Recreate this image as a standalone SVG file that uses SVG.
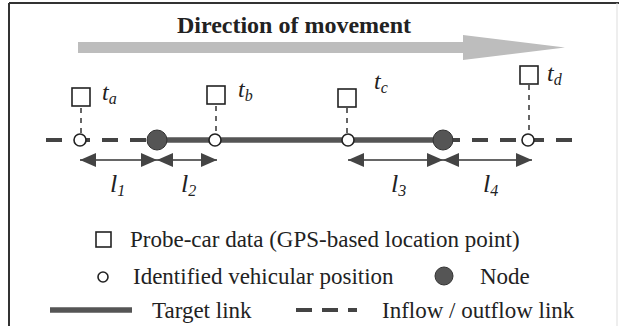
<svg xmlns="http://www.w3.org/2000/svg" width="619" height="326" viewBox="0 0 619 326">
<defs>
<style>
.tx{fill:#222}
.lbl{font-size:23px}
.it{font-style:italic;font-size:24px}
.il{font-style:italic;font-size:26px}
.sub{font-size:16px}
.sq{fill:#fff;stroke:#222;stroke-width:1.6}
.pos{fill:#fff;stroke:#222;stroke-width:1.6}
.node{fill:#555;stroke:#333;stroke-width:1}
.target{stroke:#555;stroke-width:5.5}
.inflow{stroke:#444;stroke-width:4;stroke-dasharray:16 12}
.drop{stroke:#333;stroke-width:1.5;stroke-dasharray:5 5}
.dim{stroke:#333;stroke-width:1.6}
</style>
<marker id="ah2" viewBox="0 0 16 14" refX="16" refY="7" markerWidth="16" markerHeight="14" markerUnits="userSpaceOnUse" orient="auto-start-reverse">
<path d="M0,0 L16,7 L0,14 z" fill="#444"/>
</marker>
</defs>
<rect width="619" height="326" fill="#fff"/>
<line x1="9" y1="3" x2="619" y2="3" stroke="#333" stroke-width="2"/>
<line x1="9" y1="3" x2="9" y2="326" stroke="#333" stroke-width="2"/>
<line x1="617" y1="3" x2="617" y2="326" stroke="#ddd" stroke-width="1"/>

<g id="title">
<text class="tx" x="294" y="33" font-family="Liberation Serif" font-size="24" font-weight="bold" text-anchor="middle">Direction of movement</text>
<path d="M78,42 L463,42 L463,35 L565,47.5 L463,60 L463,53 L78,53 z" fill="#bdbdbd"/>
</g>

<g id="connectors">
<line class="drop" x1="81" y1="108" x2="81" y2="134"/>
<line class="drop" x1="216" y1="106" x2="216" y2="134"/>
<line class="drop" x1="347" y1="108" x2="347" y2="134"/>
<line class="drop" x1="529" y1="85" x2="529" y2="134"/>
<line class="inflow" x1="46" y1="140" x2="150" y2="140"/>
<line class="target" x1="157" y1="140" x2="443" y2="140"/>
<line class="inflow" x1="444" y1="140" x2="574" y2="140"/>
<line class="dim" x1="80" y1="160" x2="157" y2="160" marker-start="url(#ah2)" marker-end="url(#ah2)"/>
<line class="dim" x1="157" y1="160" x2="217" y2="160" marker-start="url(#ah2)" marker-end="url(#ah2)"/>
<line class="dim" x1="348" y1="160" x2="443" y2="160" marker-start="url(#ah2)" marker-end="url(#ah2)"/>
<line class="dim" x1="443" y1="160" x2="532" y2="160" marker-start="url(#ah2)" marker-end="url(#ah2)"/>
</g>

<g id="probe-a" font-family="Liberation Serif"><rect class="sq" x="72" y="88" width="18" height="18"/><text class="tx it" x="102" y="100">t<tspan class="sub" dy="4">a</tspan></text></g>
<g id="probe-b" font-family="Liberation Serif"><rect class="sq" x="207" y="86" width="18" height="18"/><text class="tx it" x="238" y="97">t<tspan class="sub" dy="4">b</tspan></text></g>
<g id="probe-c" font-family="Liberation Serif"><rect class="sq" x="338" y="89" width="18" height="18"/><text class="tx it" x="374" y="89">t<tspan class="sub" dy="4">c</tspan></text></g>
<g id="probe-d" font-family="Liberation Serif"><rect class="sq" x="520" y="66" width="18" height="18"/><text class="tx it" x="547" y="81">t<tspan class="sub" dy="4">d</tspan></text></g>

<g id="pos-a"><circle class="pos" cx="80" cy="140" r="6"/></g>
<g id="node-1"><circle class="node" cx="157" cy="140" r="10"/></g>
<g id="pos-b"><circle class="pos" cx="215" cy="140" r="6"/></g>
<g id="pos-c"><circle class="pos" cx="348" cy="140" r="6"/></g>
<g id="node-2"><circle class="node" cx="443" cy="140" r="10"/></g>
<g id="pos-d"><circle class="pos" cx="528" cy="140" r="6"/></g>

<g id="len-labels" font-family="Liberation Serif">
<text class="tx il" x="110" y="192">l<tspan class="sub" dy="4">1</tspan></text>
<text class="tx il" x="181" y="192">l<tspan class="sub" dy="4">2</tspan></text>
<text class="tx il" x="391" y="192">l<tspan class="sub" dy="4">3</tspan></text>
<text class="tx il" x="483" y="192">l<tspan class="sub" dy="4">4</tspan></text>
</g>

<g id="legend" font-family="Liberation Serif">
<rect class="sq" x="96" y="232" width="15" height="15"/>
<text class="tx lbl" x="130" y="247">Probe-car data (GPS-based location point)</text>
<circle class="pos" cx="103" cy="277" r="5"/>
<text class="tx lbl" x="133" y="284">Identified vehicular position</text>
<circle class="node" cx="444" cy="276" r="9"/>
<text class="tx lbl" x="480" y="284">Node</text>
<line class="target" x1="50" y1="310" x2="132" y2="310"/>
<text class="tx lbl" x="152" y="318">Target link</text>
<line stroke="#444" stroke-width="4" stroke-dasharray="16 10" x1="296" y1="310" x2="357" y2="310"/>
<text class="tx lbl" x="382" y="318">Inflow / outflow link</text>
</g>
</svg>
